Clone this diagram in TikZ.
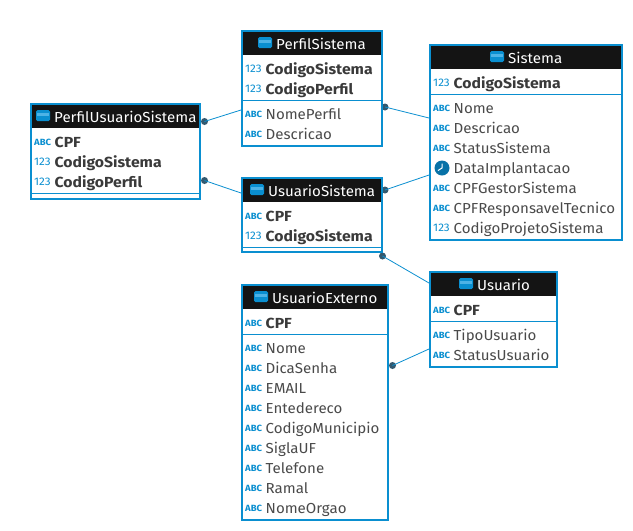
\documentclass[tikz,border=0pt]{standalone}
\usepackage{fontspec}
\setmainfont[FakeStretch=1.04]{Fira Sans}
\newfontfamily\keyfont[FakeStretch=1.08]{Fira Sans}
\newfontfamily\iconfont[FakeStretch=1.06]{Fira Sans}
\usetikzlibrary{calc}
\definecolor{dbblue}{HTML}{0A8FD0}
\definecolor{dblight}{HTML}{4DB3E6}
\definecolor{hdr}{HTML}{141414}
\definecolor{txt}{HTML}{4A4A4A}
\definecolor{keytxt}{HTML}{3A3A3A}
\definecolor{dot}{HTML}{33596F}
\tikzset{
 x=1pt,y=-1pt,
 tablebox/.style={draw=dbblue,line width=2pt,fill=white,outer sep=0pt},
 sepline/.style={draw=dbblue,line width=1pt},
 titletext/.style={anchor=base west,inner sep=0pt,text=white,font=\fontsize{14.5}{15}\selectfont},
 fieldtext/.style={anchor=base west,inner sep=0pt,text=txt,font=\fontsize{14.5}{15}\selectfont},
 keytext/.style={anchor=base west,inner sep=0pt,text=keytxt,font=\keyfont\fontsize{14.6}{15}\selectfont\bfseries},
 abcicon/.style={anchor=base west,inner sep=0pt,text=dbblue,font=\iconfont\fontsize{9}{9}\selectfont\bfseries},
 numicon/.style={anchor=base west,inner sep=0pt,text=dbblue,font=\iconfont\fontsize{11}{10}\selectfont},
 reldot/.style={circle,fill=dot,inner sep=0pt,minimum size=7pt},
 relline/.style={draw=dbblue,line width=.8pt},
}
% \tbl{name}{x1}{y1}{x2}{y2}{header bottom}{separator y}{title}{title x}
\newcommand{\tbl}[9]{%
 \node[tablebox,minimum width=#4-#2,minimum height=#5-#3,inner sep=0pt,anchor=north west] (#1) at (#2,#3) {};
 \fill[hdr] (#2+1,#3+1) rectangle (#4-1,#6-1);
 \draw[sepline] (#2+1,#7) -- (#4-1,#7);
 \node[titletext] (#1title) at (#9,#3+18.5) {#8};
 \begin{scope}[shift={(#9-18,#3+6)}]
  \fill[dbblue,rounded corners=1.5pt] (0,0) rectangle (14,11);
  \fill[dblight] (1.2,3) rectangle (6.6,6);
  \fill[dblight] (7.4,3) rectangle (12.8,6);
 \end{scope}
}
\newcommand{\abcf}[4]{% x, baseline, text, style
 \node[abcicon] at (#1+3,#2-2) {ABC};
 \node[#4] at (#1+23.5,#2) {#3};
}
\newcommand{\numf}[4]{%
 \node[numicon] at (#1+3,#2-1.5) {123};
 \node[#4] at (#1+23.5,#2) {#3};
}
\begin{document}
\begin{tikzpicture}
\useasboundingbox (0,0) rectangle (633,531);
\fill[white] (0,0) rectangle (633,531);

% connectors
\coordinate (c1) at (241,110);
\coordinate (c2) at (241,193);
\coordinate (c3) at (429,118);
\coordinate (c4) at (429,175);
\coordinate (c5) at (429,283);
\coordinate (c6) at (429,349);
\node[reldot] (d1) at (204.5,121.5) {};
\node[reldot] (d2) at (204.5,180.5) {};
\node[reldot] (d3) at (385,107) {};
\node[reldot] (d4) at (385,190) {};
\node[reldot] (d5) at (382.5,256) {};
\node[reldot] (d6) at (392.5,365.5) {};
\draw[relline] (d1.center) -- (c1);
\draw[relline] (d2.center) -- (c2);
\draw[relline] (d3.center) -- (c3);
\draw[relline] (d4.center) -- (c4);
\draw[relline] (d5.center) -- (c5);
\draw[relline] (d6.center) -- (c6);

% PerfilUsuarioSistema
\tbl{pus}{31}{104}{200}{199}{129}{193}{PerfilUsuarioSistema}{54}
\abcf{31}{147}{CPF}{keytext}
\numf{31}{167}{CodigoSistema}{keytext}
\numf{31}{187}{CodigoPerfil}{keytext}

% PerfilSistema
\tbl{ps}{242}{31}{382}{146}{56}{100}{PerfilSistema}{276}
\numf{242}{74}{CodigoSistema}{keytext}
\numf{242}{94}{CodigoPerfil}{keytext}
\abcf{242}{119}{NomePerfil}{fieldtext}
\abcf{242}{139}{Descricao}{fieldtext}

% UsuarioSistema
\tbl{us}{242}{178}{382}{252}{203}{247}{UsuarioSistema}{268}
\abcf{242}{221}{CPF}{keytext}
\numf{242}{241}{CodigoSistema}{keytext}

% Sistema
\tbl{si}{430}{45}{622}{240}{70}{94}{Sistema}{508}
\numf{430}{88}{CodigoSistema}{keytext}
\abcf{430}{113}{Nome}{fieldtext}
\abcf{430}{133}{Descricao}{fieldtext}
\abcf{430}{153}{StatusSistema}{fieldtext}
\fill[dbblue!80!black] (442,168) circle (7.5);
\draw[white,line width=1pt] (442,163.5) -- (442,168) -- (438,170.5);
\node[fieldtext] at (453.5,173) {DataImplantacao};
\abcf{430}{193}{CPFGestorSistema}{fieldtext}
\abcf{430}{213}{CPFResponsavelTecnico}{fieldtext}
\numf{430}{233}{CodigoProjetoSistema}{fieldtext}

% Usuario
\tbl{uu}{430}{272}{557}{367}{297}{321}{Usuario}{477}
\abcf{430}{315}{CPF}{keytext}
\abcf{430}{340}{TipoUsuario}{fieldtext}
\abcf{430}{360}{StatusUsuario}{fieldtext}

% UsuarioExterno
\tbl{ue}{242}{285}{388}{520}{310}{334}{UsuarioExterno}{272}
\abcf{242}{328}{CPF}{keytext}
\abcf{242}{353}{Nome}{fieldtext}
\abcf{242}{373}{DicaSenha}{fieldtext}
\abcf{242}{393}{EMAIL}{fieldtext}
\abcf{242}{413}{Entedereco}{fieldtext}
\abcf{242}{433}{CodigoMunicipio}{fieldtext}
\abcf{242}{453}{SiglaUF}{fieldtext}
\abcf{242}{473}{Telefone}{fieldtext}
\abcf{242}{493}{Ramal}{fieldtext}
\abcf{242}{513}{NomeOrgao}{fieldtext}
\end{tikzpicture}
\end{document}
